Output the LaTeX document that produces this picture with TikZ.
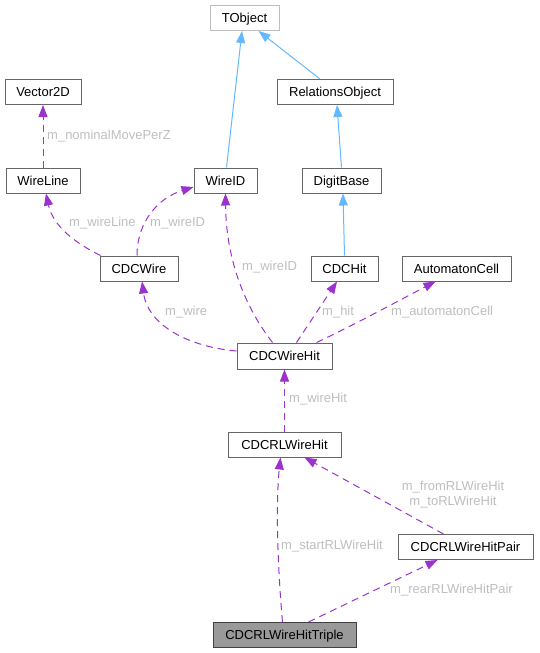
\documentclass[tikz,border=0pt]{standalone}
\usepackage{fontspec}
\setmainfont{Liberation Sans}
\usetikzlibrary{arrows.meta}

\definecolor{boxgray}{HTML}{666666}
\definecolor{rootgray}{HTML}{BFBFBF}
\definecolor{inhblue}{HTML}{63B8FF}
\definecolor{usepurple}{HTML}{9A32CD}
\definecolor{lblgray}{HTML}{BEBEBE}
\definecolor{mainfill}{HTML}{999999}
\definecolor{mainline}{HTML}{404040}

\begin{document}
\begin{tikzpicture}[x=1pt, y=-1pt,
    cls/.style={draw=boxgray, line width=1pt, fill=white, inner sep=0pt, minimum height=25pt, text height=9.4pt, text depth=0pt, font=\fontsize{13}{15}\selectfont},
    inh/.style={draw=inhblue, line width=1pt, -{Triangle[length=12pt, width=9pt, fill=inhblue]}},
    use/.style={draw=usepurple, line width=1pt, dash pattern=on 7pt off 5pt, -{Triangle[length=12pt, width=9pt, fill=usepurple]}},
    lbl/.style={text=lblgray, inner sep=0pt, anchor=west, font=\fontsize{13}{15}\selectfont}]
    \useasboundingbox (0,0) rectangle (539,653);

    \node[cls, draw=rootgray, minimum width=69pt] (tobj) at (244.5,18) {TObject};
    \node[cls, minimum width=76pt] (v2d) at (43,92) {Vector2D};
    \node[cls, minimum width=116pt] (rel) at (335,92) {RelationsObject};
    \node[cls, minimum width=74pt] (wl) at (43,180.5) {WireLine};
    \node[cls, minimum width=63pt] (wid) at (225.5,180.5) {WireID};
    \node[cls, minimum width=79pt] (dig) at (341.5,180.5) {DigitBase};
    \node[cls, minimum width=78pt] (wire) at (139,268.5) {CDCWire};
    \node[cls, minimum width=67pt] (hit) at (344.5,268.5) {CDCHit};
    \node[cls, minimum width=109pt] (ac) at (456.5,268.5) {AutomatonCell};
    \node[cls, minimum width=95pt, minimum height=26pt] (cwh) at (284.5,356) {CDCWireHit};
    \node[cls, minimum width=113pt] (rlh) at (284.5,444.5) {CDCRLWireHit};
    \node[cls, minimum width=135pt] (pair) at (465.5,547) {CDCRLWireHitPair};
    \node[cls, draw=mainline, fill=mainfill, minimum width=143pt] (trip) at (284.5,635) {CDCRLWireHitTriple};

    % inheritance
    \draw[inh] ([xshift=1pt]wid.north) -- ([xshift=-2.5pt]tobj.south);
    \draw[inh] ([xshift=-15pt]rel.north) -- ([xshift=14pt]tobj.south);
    \draw[inh] (dig.north) -- ([xshift=2pt]rel.south);
    \draw[inh] (hit.north) -- ([xshift=1.5pt]dig.south);

    % members
    \draw[use] (wl.north) -- (v2d.south);
    \draw[use] ([xshift=1pt]wire.north west) .. controls (75,243) and (53,226) .. ([xshift=3pt]wl.south);
    \draw[use] ([xshift=-2pt]wire.north) .. controls (137,222) and (158,198) .. ([yshift=-6.5pt]wid.west);
    \draw[use] ([xshift=-12pt]cwh.north) .. controls (242,303) and (226,255) .. (wid.south);
    \draw[use] ([yshift=5pt]cwh.west) .. controls (190,347) and (148,326) .. ([xshift=3pt]wire.south);
    \draw[use] ([xshift=12pt]cwh.north) -- ([xshift=-7.5pt]hit.south);
    \draw[use] ([xshift=32pt]cwh.north) .. controls (350,327) and (400,300) .. ([xshift=-21pt]ac.south);
    \draw[use] (rlh.north) -- (cwh.south);
    \draw[use] ([xshift=-2pt]trip.north) .. controls (277,560) and (276,500) .. ([xshift=-4pt]rlh.south);
    \draw[use] ([xshift=-22pt]pair.north) -- ([xshift=20pt]rlh.south);
    \draw[use] ([xshift=24pt]trip.north) -- ([xshift=-28pt]pair.south);

    % member labels
    \node[lbl] (l1) at (47,136) {m\_nominalMovePerZ};
    \node[lbl] (l2) at (69,223) {m\_wireLine};
    \node[lbl] (l3) at (150,223) {m\_wireID};
    \node[lbl] (l4) at (242,267) {m\_wireID};
    \node[lbl] (l5) at (165,312) {m\_wire};
    \node[lbl] (l6) at (322,312) {m\_hit};
    \node[lbl] (l7) at (391,312) {m\_automatonCell};
    \node[lbl] (l8) at (289,399) {m\_wireHit};
    \node[lbl, anchor=center, align=center, font=\fontsize{13}{15}\selectfont] (l9) at (453,494.5) {m\_fromRLWireHit\\m\_toRLWireHit};
    \node[lbl] (l10) at (281,546) {m\_startRLWireHit};
    \node[lbl] (l11) at (390,590) {m\_rearRLWireHitPair};
\end{tikzpicture}
\end{document}
